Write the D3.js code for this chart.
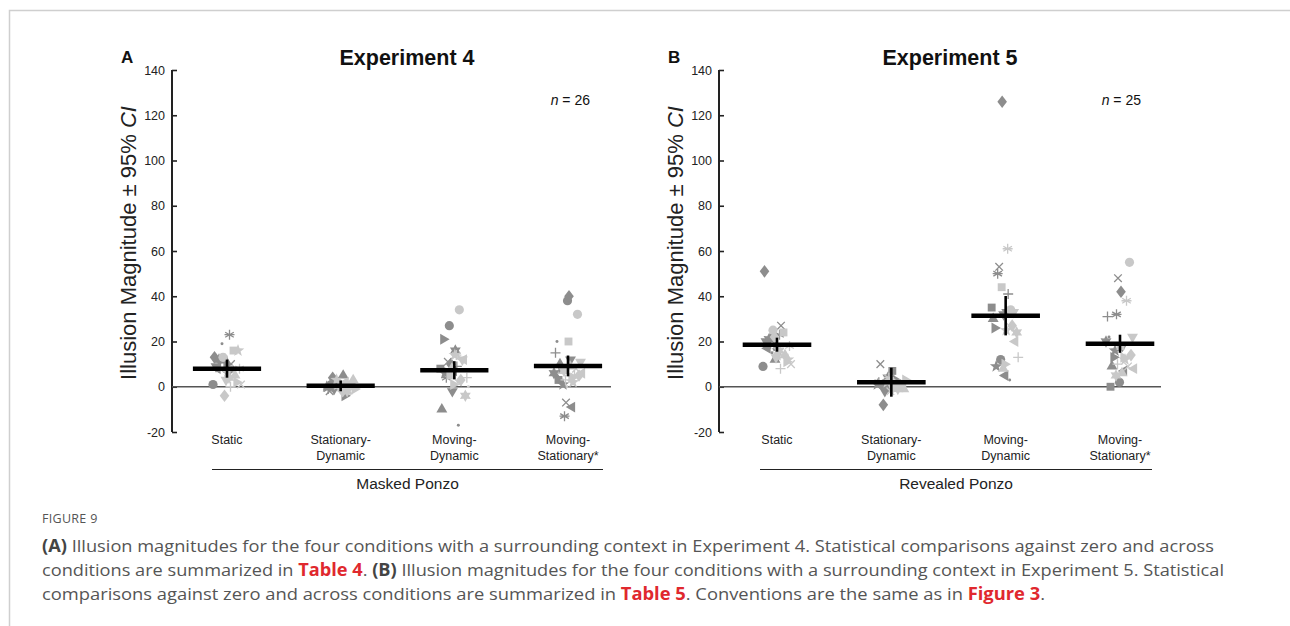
<!DOCTYPE html>
<html>
<head>
<meta charset="utf-8">
<script src="https://cdn.jsdelivr.net/npm/d3@7"></script>
<style>
  html, body { margin: 0; padding: 0; background: #fff; }
  svg { display: block; }
</style>
</head>
<body>
<svg id="fig" width="1290" height="626"></svg>
<script>
// ---- data -------------------------------------------------------------
const conditions = ["Static", "Stationary-Dynamic", "Moving-Dynamic", "Moving-Stationary*"];
const conditionLines = [["Static"], ["Stationary-", "Dynamic"], ["Moving-", "Dynamic"], ["Moving-", "Stationary*"]];
const yTicks = [-20, 0, 20, 40, 60, 80, 100, 120, 140];

// participant marker set: 13 shapes, first in dark gray then in light gray
const markerShapes = ["circle", "square", "diamond", "triUp", "triDown", "triRight", "triLeft",
                      "star", "hexagram", "asterisk", "plus", "cross", "dot"];

// Experiment 4 (Masked Ponzo), n = 26, one value per participant
const exp4Static      = [1, 12, 13, 12, 9, 10, 8, 6, 12, 23, 11, 10, 19, 13, 16, -4, 5, 3, 2, 7, 16, 4, 8, 0, 1, 9];
const exp4StatDyn     = [1, 0, 4, 5, -1, -4, 2, 0, 1, -1, 0, -2, 2, 0, 1, -2, 3, 1, -1, 2, 3, -2, 0, -1, 1, -3];
const exp4MovDyn      = [27, 8, 10, -10, -2, 21, 7, 6, 16, 4, 9, 11, -17, 34, 5, 3, 8, 12, 1, 12, 14, -4, 14, 4, 2, 0];
const exp4MovStat     = [38, 3, 40, 10, 12, 8, -9, 1, 6, -13, 15, -7, 20, 32, 20, 5, 9, 11, 4, 6, 2, 7, 5, 3, 8, 0];
const exp4Means       = [8, 0.4, 7.3, 9.2];
const exp4CI          = [4, 2.4, 4, 4.6];

// Experiment 5 (Revealed Ponzo), n = 25
const exp5Static      = [9, 22, 51, 12, 20, 18, 17, 16, 21, 23, 19, 27, 15, 25, 24, 22, 14, 13, 11, 14, 12, 16, 18, 8, 10];
const exp5StatDyn     = [1, 7, -8, 2, -2, 3, 0, 1, 4, 2, 5, 10, 3, 2, 1, 0, -1, 1, 3, 0, 2, -1, 4, 1, -2];
const exp5MovDyn      = [12, 35, 126, 30, 32, 26, 5, 9, 33, 50, 41, 53, 3, 34, 44, 27, 8, 33, 10, 20, 25, 24, 61, 13, 27];
const exp5MovStat     = [2, 0, 42, 9, 18, 13, 7, 16, 20, 32, 31, 48, 22, 55, 18, 14, 6, 22, 13, 8, 12, 5, 38, 10, 9];
const exp5Means       = [18.6, 2, 31.4, 19];
const exp5CI          = [3.1, 6.4, 8.7, 4];

const panels = [
  { letter: "A", title: "Experiment 4", n: 26, group: "Masked Ponzo",
    series: [exp4Static, exp4StatDyn, exp4MovDyn, exp4MovStat], means: exp4Means, ci: exp4CI,
    axisX: 172, right: 611, first: 227, last: 568, titleX: 407, nX: 590, lineX0: 212, lineX1: 603 },
  { letter: "B", title: "Experiment 5", n: 25, group: "Revealed Ponzo",
    series: [exp5Static, exp5StatDyn, exp5MovDyn, exp5MovStat], means: exp5Means, ci: exp5CI,
    axisX: 719, right: 1161, first: 777, last: 1120, titleX: 950, nX: 1141, lineX0: 760, lineX1: 1152 }
];

// ---- drawing ------------------------------------------------------------
const svg = d3.select("#fig");
const FONT = "'Liberation Sans', Arial, sans-serif";
const DARK = "#8d8d8d", LIGHT = "#c8c8c8";

// page frame
svg.append("path")
  .attr("d", "M9.5,626 V10.5 H1290")
  .attr("fill", "none").attr("stroke", "#cfcfcf").attr("stroke-width", 1.5);

const y = d3.scaleLinear().domain([-20, 140]).range([432, 70]);

// symbol generators
function triPath(r, angleDeg) {
  const pts = [];
  for (let k = 0; k < 3; k++) {
    const a = (angleDeg + k * 120) * Math.PI / 180;
    pts.push([r * Math.cos(a), r * Math.sin(a)]);
  }
  return "M" + pts.map(p => p.join(",")).join("L") + "Z";
}
function starPath(nPts, rOut, rIn, rot) {
  const pts = [];
  for (let k = 0; k < nPts * 2; k++) {
    const r = k % 2 === 0 ? rOut : rIn;
    const a = (rot + k * 180 / nPts) * Math.PI / 180;
    pts.push([r * Math.cos(a), r * Math.sin(a)]);
  }
  return "M" + pts.map(p => p[0].toFixed(2) + "," + p[1].toFixed(2)).join("L") + "Z";
}
function markerSpec(shape) {
  switch (shape) {
    case "circle":   return { d: d3.symbol(d3.symbolCircle, 66)(), fill: true };
    case "square":   return { d: d3.symbol(d3.symbolSquare, 62)(), fill: true };
    case "diamond":  return { d: "M0,-6.3L4.8,0L0,6.3L-4.8,0Z", fill: true };
    case "triUp":    return { d: triPath(6.3, -90), fill: true };
    case "triDown":  return { d: triPath(6.3, 90), fill: true };
    case "triRight": return { d: triPath(6.3, 0), fill: true };
    case "triLeft":  return { d: triPath(6.3, 180), fill: true };
    case "star":     return { d: starPath(5, 6.6, 2.7, -90), fill: true };
    case "hexagram": return { d: starPath(6, 6.3, 3.5, -90), fill: true };
    case "asterisk": return { d: "M0,-5V5M-4.3,-2.5L4.3,2.5M-4.3,2.5L4.3,-2.5M-5,0H5", fill: false };
    case "plus":     return { d: "M0,-5V5M-5,0H5", fill: false };
    case "cross":    return { d: "M-3.8,-3.8L3.8,3.8M-3.8,3.8L3.8,-3.8", fill: false };
    case "dot":      return { d: d3.symbol(d3.symbolCircle, 7)(), fill: true };
  }
}

panels.forEach(p => {
  const g = svg.append("g");
  const x = d3.scalePoint().domain(conditions).range([p.first, p.last]);
  const step = x.step();

  // y axis: ticks point inward
  const axis = d3.axisRight(y).tickValues(yTicks).tickSize(5).tickFormat(d => String(d));
  const ax = g.append("g").attr("transform", `translate(${p.axisX},0)`).call(axis);
  ax.select(".domain").attr("stroke", "#222").attr("stroke-width", 2)
    .attr("d", `M0,${y(140)}V${y(-20)}`);
  ax.selectAll(".tick line").attr("stroke", "#222").attr("stroke-width", 1.6);
  ax.selectAll(".tick text")
    .attr("x", -7).attr("text-anchor", "end")
    .attr("font-family", FONT).attr("font-size", 12.5).attr("fill", "#222");

  // zero reference line
  g.append("line")
    .attr("x1", p.axisX).attr("x2", p.right)
    .attr("y1", y(0)).attr("y2", y(0))
    .attr("stroke", "#555").attr("stroke-width", 1.6);

  // individual participants
  p.series.forEach((vals, ci) => {
    const cx = x(conditions[ci]);
    vals.forEach((v, i) => {
      const shapeIdx = i % 13;
      const dark = i < 13;
      const spec = markerSpec(markerShapes[shapeIdx]);
      const jitter = (dark ? -5 : 5) + (((i * 7 + ci * 3) % 13) / 12 - 0.5) * 18;
      const col = dark ? DARK : LIGHT;
      g.append("path")
        .attr("d", spec.d)
        .attr("transform", `translate(${cx + jitter},${y(v)})`)
        .attr("fill", spec.fill ? col : "none")
        .attr("stroke", spec.fill ? "none" : col)
        .attr("stroke-width", 1.3);
    });
  });

  // condition means with 95% CI
  p.means.forEach((m, ci) => {
    const cx = x(conditions[ci]);
    g.append("line")
      .attr("x1", cx - step * 0.3).attr("x2", cx + step * 0.3)
      .attr("y1", y(m)).attr("y2", y(m))
      .attr("stroke", "#000").attr("stroke-width", 4.5);
    g.append("line")
      .attr("x1", cx).attr("x2", cx)
      .attr("y1", y(m + p.ci[ci])).attr("y2", y(m - p.ci[ci]))
      .attr("stroke", "#000").attr("stroke-width", 2.6);
  });

  // category labels
  conditionLines.forEach((lines, ci) => {
    const t = g.append("text")
      .attr("x", x(conditions[ci])).attr("y", 444)
      .attr("text-anchor", "middle")
      .attr("font-family", FONT).attr("font-size", 12.5).attr("fill", "#222");
    lines.forEach((ln, k) => {
      t.append("tspan").attr("x", x(conditions[ci])).attr("dy", k === 0 ? 0 : 15.5).text(ln);
    });
  });

  // group bracket and label
  g.append("line")
    .attr("x1", p.lineX0).attr("x2", p.lineX1)
    .attr("y1", 469.5).attr("y2", 469.5)
    .attr("stroke", "#222").attr("stroke-width", 1.2);
  g.append("text")
    .attr("x", (p.lineX0 + p.lineX1) / 2).attr("y", 489)
    .attr("text-anchor", "middle")
    .attr("font-family", FONT).attr("font-size", 15.5).attr("fill", "#222")
    .text(p.group);

  // y axis title
  const yl = g.append("text")
    .attr("transform", `translate(${p.axisX - 36},243) rotate(-90)`)
    .attr("text-anchor", "middle")
    .attr("font-family", FONT).attr("font-size", 22).attr("fill", "#222");
  yl.append("tspan").text("Illusion Magnitude \u00b1 95% ");
  yl.append("tspan").attr("font-style", "italic").text("CI");

  // panel letter, title, n
  g.append("text")
    .attr("x", p.axisX - 51).attr("y", 63)
    .attr("font-family", FONT).attr("font-weight", "bold").attr("font-size", 17).attr("fill", "#111")
    .text(p.letter);
  g.append("text")
    .attr("x", p.titleX).attr("y", 65)
    .attr("text-anchor", "middle")
    .attr("font-family", FONT).attr("font-weight", "bold").attr("font-size", 21.5).attr("fill", "#111")
    .text(p.title);
  const nt = g.append("text")
    .attr("x", p.nX).attr("y", 105)
    .attr("text-anchor", "end")
    .attr("font-family", FONT).attr("font-size", 14).attr("fill", "#111");
  nt.append("tspan").attr("font-style", "italic").text("n");
  nt.append("tspan").text(" = " + p.n);
});

// ---- caption -------------------------------------------------------------
const CAP = "'Open Sans', 'Noto Sans', sans-serif";
const RED = "#e0282e";
svg.append("text")
  .attr("x", 42).attr("y", 523)
  .attr("font-family", CAP).attr("font-size", 12.5).attr("fill", "#555")
  .attr("letter-spacing", 0.3)
  .text("FIGURE 9");

const captionLines = [
  { y: 552, len: 1172, parts: [["(A)", "b"], [" Illusion magnitudes for the four conditions with a surrounding context in Experiment 4. Statistical comparisons against zero and across", "n"]] },
  { y: 576, len: 1182, parts: [["conditions are summarized in ", "n"], ["Table 4", "r"], [". ", "n"], ["(B)", "b"], [" Illusion magnitudes for the four conditions with a surrounding context in Experiment 5. Statistical", "n"]] },
  { y: 600, len: 1003, parts: [["comparisons against zero and across conditions are summarized in ", "n"], ["Table 5", "r"], [". Conventions are the same as in ", "n"], ["Figure 3", "r"], [".", "n"]] }
];
captionLines.forEach(line => {
  const t = svg.append("text")
    .attr("x", 42).attr("y", line.y)
    .attr("font-family", CAP).attr("font-size", 17).attr("fill", "#555")
    .attr("textLength", line.len).attr("lengthAdjust", "spacingAndGlyphs");
  line.parts.forEach(([s, kind]) => {
    const ts = t.append("tspan").text(s);
    if (kind === "b") ts.attr("font-weight", "bold").attr("fill", "#444");
    if (kind === "r") ts.attr("font-weight", "bold").attr("fill", RED);
  });
});
</script>
</body>
</html>
